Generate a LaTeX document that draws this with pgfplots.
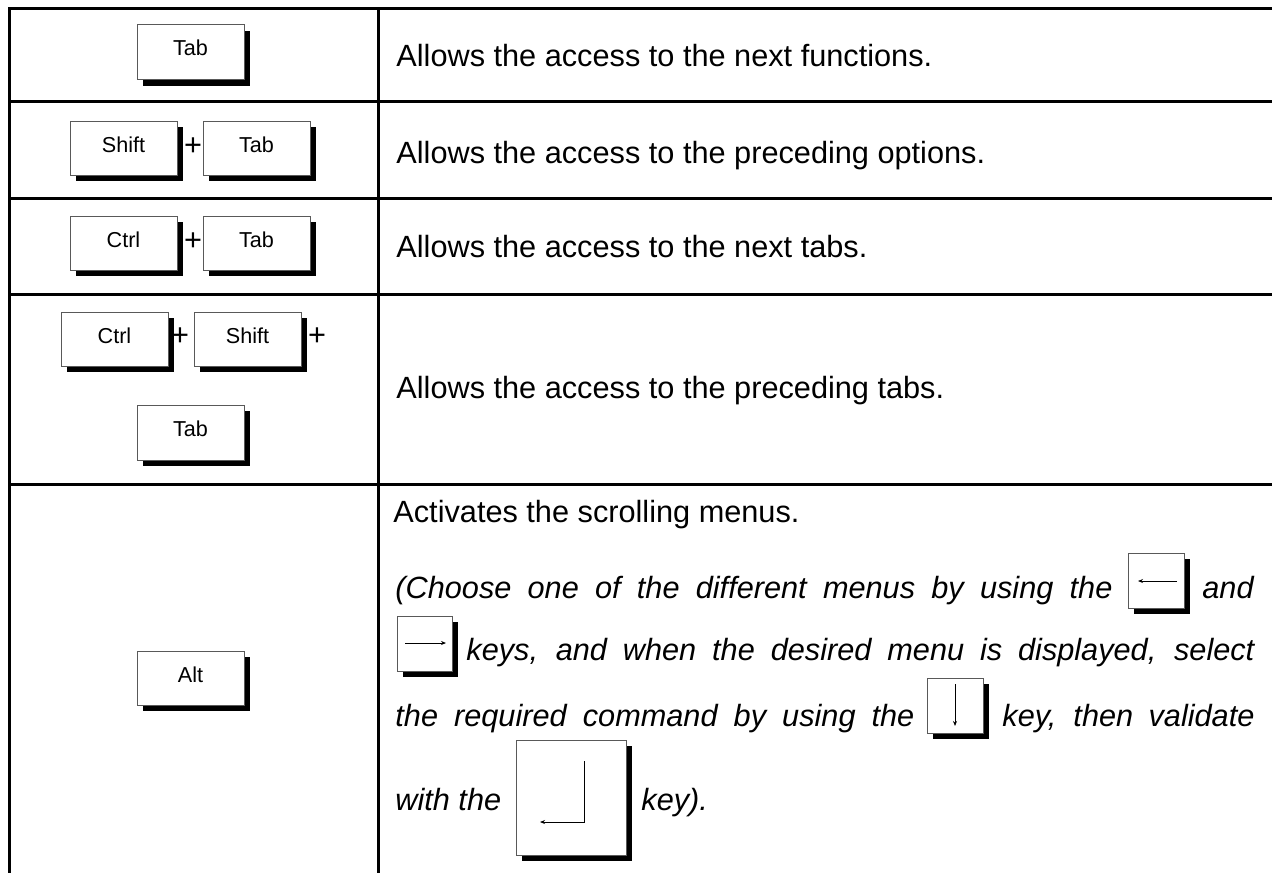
\documentclass[border=0pt]{standalone}
\usepackage{fontspec}
\setmainfont{Liberation Sans}
\usepackage{pgfplots}
\pgfplotsset{compat=1.18}
\usetikzlibrary{arrows.meta}
\newcommand{\mainfont}{\fontsize{15.35}{18}\selectfont}
\newcommand{\keyfont}{\fontsize{10.8}{12}\selectfont}
\newcommand{\keybox}[4]{%
  \fill[black] (axis cs:{#1+6},{#2+6}) rectangle (axis cs:{#3+6},{#4+6});
  \filldraw[fill=white,draw=black!65,line width=0.5pt] (axis cs:#1,#2) rectangle (axis cs:#3,#4);}
\newcommand{\key}[5]{%
  \keybox{#1}{#2}{#3}{#4}
  \node[font=\keyfont,anchor=base,inner sep=0pt] at (axis cs:{(#1+#3)/2},{#2+31}) {#5};}
\newcommand{\plus}[2]{%
  \node[font=\mainfont,anchor=center,inner sep=0pt] at (axis cs:#1,#2) {+};}
\begin{document}
\begin{tikzpicture}
\begin{axis}[width=636pt,height=436pt,scale only axis,
  xmin=0,xmax=1272,ymin=0,ymax=872,y dir=reverse,hide axis,clip=true]
% table grid
\addplot[black,line width=1.5pt,forget plot] coordinates {(9.5,880) (9.5,8.5) (1290,8.5)};
\addplot[black,line width=1.5pt,forget plot] coordinates {(378,8.5) (378,880)};
\addplot[black,line width=1.5pt,forget plot] coordinates {(9.5,102) (1290,102)};
\addplot[black,line width=1.5pt,forget plot] coordinates {(9.5,198.5) (1290,198.5)};
\addplot[black,line width=1.5pt,forget plot] coordinates {(9.5,294) (1290,294)};
\addplot[black,line width=1.5pt,forget plot] coordinates {(9.5,484) (1290,484)};
% row 1
\key{137}{25}{244}{80}{Tab}
% row 2
\key{70}{121}{177}{175}{Shift}
\plus{193}{147}
\key{203}{121}{310}{175}{Tab}
% row 3
\key{70}{216}{177}{270}{Ctrl}
\plus{193}{242}
\key{203}{216}{310}{270}{Tab}
% row 4
\key{61}{312}{168}{366}{Ctrl}
\plus{180}{337}
\key{194}{312}{301}{366}{Shift}
\plus{317}{337}
\key{137}{405}{244}{460}{Tab}
% row 5
\key{137}{651}{244}{705}{Alt}
% texts rows 1-4
\node[anchor=base west,inner sep=0pt,font=\mainfont] at (axis cs:396,67) {Allows the access to the next functions.};
\node[anchor=base west,inner sep=0pt,font=\mainfont] at (axis cs:396,163) {Allows the access to the preceding options.};
\node[anchor=base west,inner sep=0pt,font=\mainfont] at (axis cs:396,257) {Allows the access to the next tabs.};
\node[anchor=base west,inner sep=0pt,font=\mainfont] at (axis cs:396,398) {Allows the access to the preceding tabs.};
% row 5 text
\node[anchor=base west,inner sep=0pt,font=\mainfont] at (axis cs:393,522) {Activates the scrolling menus.};
\node[anchor=base west,inner sep=0pt,font=\mainfont\itshape] at (axis cs:395,598) {\makebox[358.5pt][s]{(Choose one of the different menus by using the}};
\keybox{1128}{553}{1184}{608}
\draw[line width=0.5pt,-{Stealth[length=2.5pt,width=2pt]}] (axis cs:1177,581) -- (axis cs:1138,581);
\node[anchor=base east,inner sep=0pt,font=\mainfont\itshape] at (axis cs:1254,598) {and};
\keybox{397}{616}{452}{671}
\draw[line width=0.5pt,-{Stealth[length=2.5pt,width=2pt]}] (axis cs:405,643) -- (axis cs:446,643);
\node[anchor=base west,inner sep=0pt,font=\mainfont\itshape] at (axis cs:466,660) {\makebox[394pt][s]{keys, and when the desired menu is displayed, select}};
\node[anchor=base west,inner sep=0pt,font=\mainfont\itshape] at (axis cs:395,726) {\makebox[259.5pt][s]{the required command by using the}};
\keybox{927}{678}{983}{733}
\draw[line width=0.5pt,-{Stealth[length=2.5pt,width=2pt]}] (axis cs:955,684) -- (axis cs:955,726);
\node[anchor=base west,inner sep=0pt,font=\mainfont\itshape] at (axis cs:1002,726) {\makebox[126pt][s]{key, then validate}};
\node[anchor=base west,inner sep=0pt,font=\mainfont\itshape] at (axis cs:395,810) {with the};
\keybox{516}{740}{626}{855}
\draw[line width=0.5pt,-{Stealth[length=2.5pt,width=2pt]}] (axis cs:584,761) -- (axis cs:584,822) -- (axis cs:540,822);
\node[anchor=base west,inner sep=0pt,font=\mainfont\itshape] at (axis cs:641,810) {key).};
\end{axis}
\pgfresetboundingbox
\useasboundingbox (current axis.south west) rectangle (current axis.north east);
\end{tikzpicture}
\end{document}
